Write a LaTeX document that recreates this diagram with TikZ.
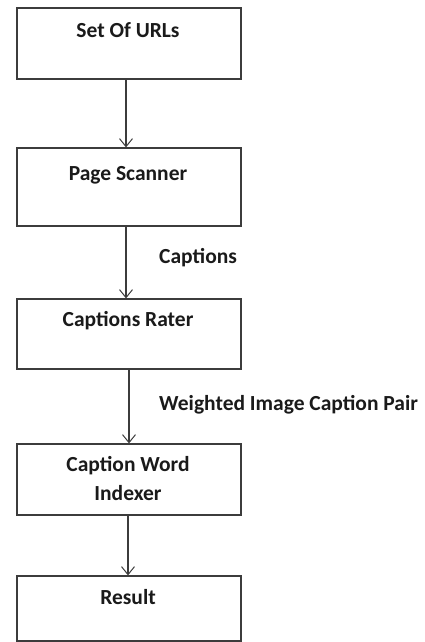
\documentclass[tikz,border=0pt]{standalone}
\usepackage{fontspec}
\setmainfont{Carlito}
\usepackage{tikz}
\usetikzlibrary{arrows.meta,positioning}
\definecolor{ink}{HTML}{1A1A1A}
\definecolor{edge}{HTML}{3C3C3C}
\tikzset{
  flowbox/.style={draw=edge,fill=white,line width=1.2pt,
                  minimum width=224pt,inner sep=0pt},
  boxtitle/.style={font=\fontsize{21.5}{29}\selectfont\bfseries,text=ink,
                   align=center,inner sep=0pt},
  flowlabel/.style={font=\fontsize{21.5}{25}\selectfont\bfseries,text=ink,
                    anchor=west,inner sep=0pt},
  flowarr/.style={-{Straight Barb[length=8pt,width=13pt,line width=1pt]},
                  line width=1.2pt,color=edge}
}
\begin{document}
\begin{tikzpicture}[x=1pt,y=-1pt]
  \useasboundingbox (0,0) rectangle (425,642);

  \node[flowbox,minimum height=71pt] (urls) at (129,43.5) {};
  \node[flowbox,minimum height=78pt] (scan) at (129,187) {};
  \node[flowbox,minimum height=70pt] (rater) at (129,334) {};
  \node[flowbox,minimum height=71pt] (index) at (129,479.5) {};
  \node[flowbox,minimum height=65pt] (result) at (129,608.5) {};

  \node[boxtitle] (urlst) at (128,30) {Set Of URLs};
  \node[boxtitle] (scant) at (128,175) {Page Scanner};
  \node[boxtitle] (ratert) at (128,321) {Captions Rater};
  \node[boxtitle] (indext) at (128,478.5) {Caption Word\\Indexer};
  \node[boxtitle] (resultt) at (128,597) {Result};

  \draw[flowarr] ([xshift=-3pt]urls.south) -- ([xshift=-3pt]scan.north);
  \draw[flowarr] ([xshift=-3pt]scan.south) -- ([xshift=-3pt]rater.north);
  \draw[flowarr] (rater) -- (index);
  \draw[flowarr] ([xshift=-1pt]index.south) -- ([xshift=-1pt]result.north);

  \node[flowlabel] (capl) at (159,258) {Captions};
  \node[flowlabel] (pairl) at (159,405) {Weighted Image Caption Pair};
\end{tikzpicture}
\end{document}
